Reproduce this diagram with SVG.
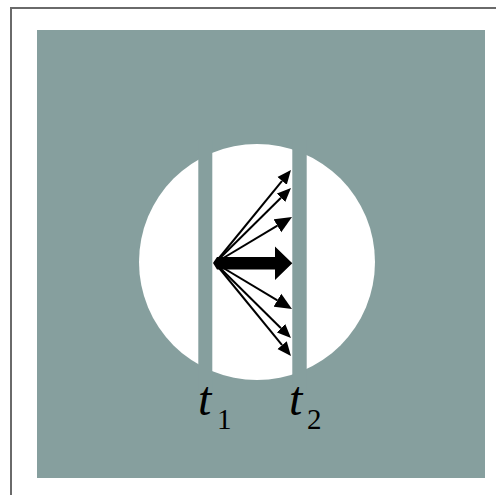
<svg xmlns="http://www.w3.org/2000/svg" width="496" height="495" viewBox="0 0 496 495">
<style>
.bg{fill:#869f9e}
.ln{stroke:#000;stroke-width:2;fill:none}
.t{font-family:"Liberation Serif","Times New Roman",serif;fill:#000}
.it{font-style:italic}
</style>
<defs>
<marker id="ha" markerUnits="userSpaceOnUse" markerWidth="15" markerHeight="13" refX="0" refY="6" orient="auto" viewBox="0 0 15 12">
<path d="M0,0 L14,6 L0,12 z" fill="#000"/>
</marker>
<marker id="hb" markerUnits="userSpaceOnUse" markerWidth="18" markerHeight="16" refX="0" refY="7.5" orient="auto" viewBox="0 0 18 15">
<path d="M0,0 L17,7.5 L0,15 z" fill="#000"/>
</marker>
</defs>
<rect width="496" height="495" fill="#fff"/>
<rect x="11" y="8" width="600" height="600" fill="none" stroke="#6a6a6a" stroke-width="2"/>
<rect class="bg" x="37" y="30" width="448" height="448"/>
<g id="disc">
<circle cx="257" cy="262" r="118" fill="#fff"/>
<rect class="bg" x="198.3" y="140" width="14" height="250"/>
<rect class="bg" x="292.3" y="140" width="14.4" height="250"/>
</g>
<g id="connectors">
<line class="ln" x1="215" y1="263" x2="282.1" y2="180.9" marker-end="url(#ha)"/>
<line class="ln" x1="215" y1="263" x2="281.0" y2="197.8" marker-end="url(#ha)"/>
<line class="ln" x1="215" y1="263" x2="277.4" y2="225.7" marker-end="url(#hb)"/>
<line class="ln" x1="215" y1="263" x2="277.4" y2="300.3" marker-end="url(#hb)"/>
<line class="ln" x1="215" y1="263" x2="281.0" y2="328.2" marker-end="url(#ha)"/>
<line class="ln" x1="215" y1="263" x2="282.1" y2="345.1" marker-end="url(#ha)"/>
<polygon points="213,263 217,257 275,257 275,246.5 292.3,263.3 275,280 275,269.5 217,269.5" fill="#000"/>
</g>
<g id="label-t1">
<text class="t it" x="198" y="415" font-size="48">t</text>
<text class="t" x="217" y="429" font-size="29">1</text>
</g>
<g id="label-t2">
<text class="t it" x="289" y="415" font-size="48">t</text>
<text class="t" x="307" y="429" font-size="29">2</text>
</g>
</svg>
